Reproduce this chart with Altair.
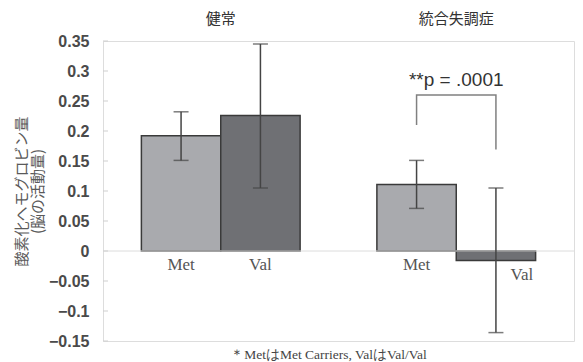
import altair as alt
import pandas as pd

groups = ["健常", "統合失調症"]
alleles = ["Met", "Val"]
bar_group = ["健常", "健常", "統合失調症", "統合失調症"]
bar_allele = ["Met", "Val", "Met", "Val"]
values = [0.192, 0.226, 0.111, -0.016]
err_low = [0.151, 0.105, 0.071, -0.136]
err_high = [0.232, 0.345, 0.151, 0.105]
y_ticks = [-0.15, -0.1, -0.05, 0, 0.05, 0.1, 0.15, 0.2, 0.25, 0.3, 0.35]

bracket_allele = ["Met", "Met", "Val", "Val"]
bracket_y = [0.21, 0.26, 0.26, 0.169]
bracket_order = [0, 1, 2, 3]
p_text = "**p = .0001"
p_y = 0.285

df = pd.DataFrame({
    "group": bar_group, "allele": bar_allele, "value": values,
    "lo": err_low, "hi": err_high,
})
ticks_df = pd.DataFrame({"t": y_ticks})
bracket_df = pd.DataFrame({
    "group": ["統合失調症"] * 4, "allele": bracket_allele,
    "y": bracket_y, "o": bracket_order,
})
ann_df = pd.DataFrame({"group": ["統合失調症"], "y": [p_y], "label": [p_text]})

ydom = [-0.15, 0.35]
x_axis = alt.Axis(orient="top", title=None, domain=False, ticks=False,
                  labelFontSize=15, labelPadding=15, labelColor="#333",
                  labelFont="Noto Sans CJK JP", labelAngle=0)
x_scale = alt.Scale(paddingInner=0.326, paddingOuter=0.163)
y_axis = alt.Axis(values=y_ticks, format=".2~f", grid=False, domain=False,
                  ticks=False, labelFontSize=16, labelFontWeight="bold",
                  labelColor="#4a4a4a", labelFont="Liberation Sans",
                  labelPadding=14, labelOverlap=False, labelSeparation=0,
                  title=["酸素化ヘモグロビン量", "(脳の活動量)"],
                  titleFontSize=15, titleFontWeight="normal",
                  titleColor="#5a5a5a", titleFont="Noto Sans CJK JP",
                  titlePadding=3, titleLineHeight=16)
y_scale = alt.Scale(domain=ydom, nice=False, zero=False)

x_enc = alt.X("group:N", sort=groups, scale=x_scale, axis=x_axis)
xo_enc = alt.XOffset("allele:N", sort=alleles,
                     scale=alt.Scale(paddingInner=0, paddingOuter=0))


def yenc(field):
    return alt.Y(field, scale=y_scale, axis=y_axis)


base = alt.Chart(df)

bars = base.mark_bar(stroke="#3a3a3a", strokeWidth=1.5).encode(
    x=x_enc,
    xOffset=xo_enc,
    y=yenc("value:Q"),
    y2=alt.datum(0),
    color=alt.Color("allele:N", sort=alleles,
                    scale=alt.Scale(domain=alleles, range=["#a9aaae", "#6f7074"]),
                    legend=None),
)

zero = alt.Chart(pd.DataFrame({"z": [0]})).mark_rule(color="#dcdcdc", strokeWidth=1).encode(
    y=yenc("z:Q")
)

tick_marks = alt.Chart(ticks_df).mark_rule(color="#cfcfcf", strokeWidth=1).encode(
    y=yenc("t:Q"),
    x=alt.value(0), x2=alt.value(5),
)

err = base.mark_rule(color="#444", strokeWidth=1.5).encode(
    x=x_enc, xOffset=xo_enc,
    y=yenc("lo:Q"), y2="hi:Q",
)
cap_lo = base.mark_tick(color="#444", thickness=1.5, size=15, orient="horizontal").encode(
    x=x_enc, xOffset=xo_enc,
    y=yenc("lo:Q"),
)
cap_hi = base.mark_tick(color="#444", thickness=1.5, size=15, orient="horizontal").encode(
    x=x_enc, xOffset=xo_enc,
    y=yenc("hi:Q"),
)

lab_pos = base.transform_filter("datum.value >= 0").transform_calculate(zero="0").mark_text(
    baseline="top", dy=6, fontSize=17, font="Liberation Serif", color="#555"
).encode(
    x=x_enc, xOffset=xo_enc,
    y=yenc("zero:Q"), text="allele:N",
)
lab_neg = base.transform_filter("datum.value < 0").mark_text(
    baseline="top", dy=6, dx=26, fontSize=17, font="Liberation Serif", color="#555"
).encode(
    x=x_enc, xOffset=xo_enc,
    y=yenc("value:Q"), text="allele:N",
)

bracket = alt.Chart(bracket_df).mark_line(color="#808080", strokeWidth=1.5).encode(
    x=x_enc,
    xOffset=alt.XOffset("allele:N", sort=alleles),
    y=yenc("y:Q"),
    order="o:Q",
)

ann = alt.Chart(ann_df).mark_text(
    fontSize=19, font="Liberation Sans", color="#333", baseline="middle", dx=0
).encode(
    x=x_enc,
    y=yenc("y:Q"),
    text="label:N",
)

chart = alt.layer(
    bars, zero, tick_marks, err, cap_lo, cap_hi, lab_pos, lab_neg, bracket, ann
).properties(
    width=471, height=300,
    padding={"left": 6, "top": 3, "right": 0, "bottom": 0},
    title=alt.TitleParams("＊MetはMet Carriers, ValはVal/Val", orient="bottom",
                          fontSize=13.5, font="Liberation Serif", color="#444",
                          fontWeight="normal", offset=-1, dx=-10),
).configure_view(stroke="#d6d6d6", strokeWidth=1).configure_axisY(
    labelOverlap=False
).configure(background="white")

chart.save("out.html", embed_options={"renderer": "svg", "actions": False})
